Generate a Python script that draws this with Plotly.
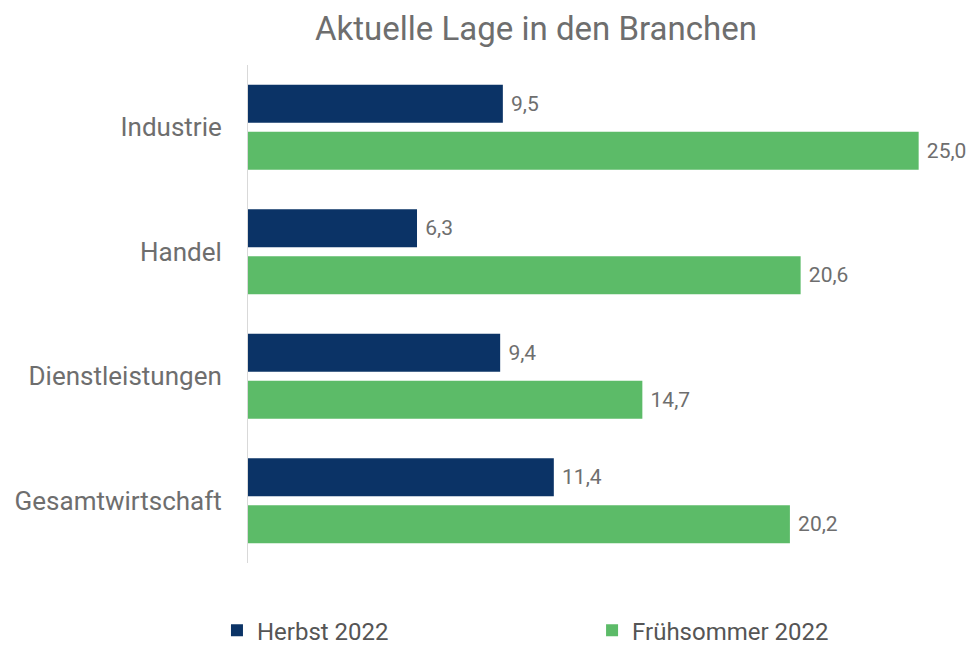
import plotly.graph_objects as go

categories = ["Industrie", "Handel", "Dienstleistungen", "Gesamtwirtschaft"]
herbst_2022 = [9.5, 6.3, 9.4, 11.4]
fruehsommer_2022 = [25.0, 20.6, 14.7, 20.2]
series_names = ["Herbst 2022", "Frühsommer 2022"]

navy = "#0B3366"
green = "#5CBB68"
grey = "#6E6E6E"
font_family = "Roboto, 'Open Sans', sans-serif"

# page body has an 8px default margin, so the figure is drawn 8px smaller
W, H = 967, 638

fig = go.Figure()
for name, vals, col, leg in [(series_names[0], herbst_2022, navy, "legend"),
                             (series_names[1], fruehsommer_2022, green, "legend2")]:
    fig.add_trace(go.Bar(
        y=categories, x=vals, name=name, orientation="h",
        marker=dict(color=col, line=dict(width=0)),
        texttemplate="\u00a0%{x:.1f}", textposition="outside",
        textfont=dict(size=21, color=grey, family=font_family),
        cliponaxis=False, legend=leg,
    ))

legend_common = dict(orientation="h", xref="container", yref="container",
                     xanchor="left", yanchor="middle", y=0.024,
                     font=dict(size=24, color="#555555", family=font_family),
                     itemwidth=30, tracegroupgap=0)

fig.update_layout(
    width=W, height=H,
    separators=",.",
    paper_bgcolor="white", plot_bgcolor="white",
    margin=dict(l=240, r=0, t=57, b=83, autoexpand=False),
    barmode="group", bargap=0.245, bargroupgap=0.19,
    title=dict(text="Aktuelle Lage in den Branchen", x=0.546, xanchor="center",
               xref="container", yref="container",
               y=0.968, yanchor="middle",
               font=dict(size=33, color=grey, family=font_family)),
    font=dict(family=font_family, color=grey),
    showlegend=True,
    legend=dict(x=0.2161, **legend_common),
    legend2=dict(x=0.604, **legend_common),
    xaxis=dict(range=[0, 27.1], showgrid=False, zeroline=False, showticklabels=False,
               showline=False, fixedrange=True, automargin=False),
    yaxis=dict(categoryorder="array", categoryarray=categories, autorange="reversed",
               showgrid=False, zeroline=False, showline=True, linecolor="#D9D9D9", linewidth=1,
               ticks="", ticklabelstandoff=20, automargin=False,
               tickfont=dict(size=26, color=grey, family=font_family)),
)

fig.write_html("out.html")
